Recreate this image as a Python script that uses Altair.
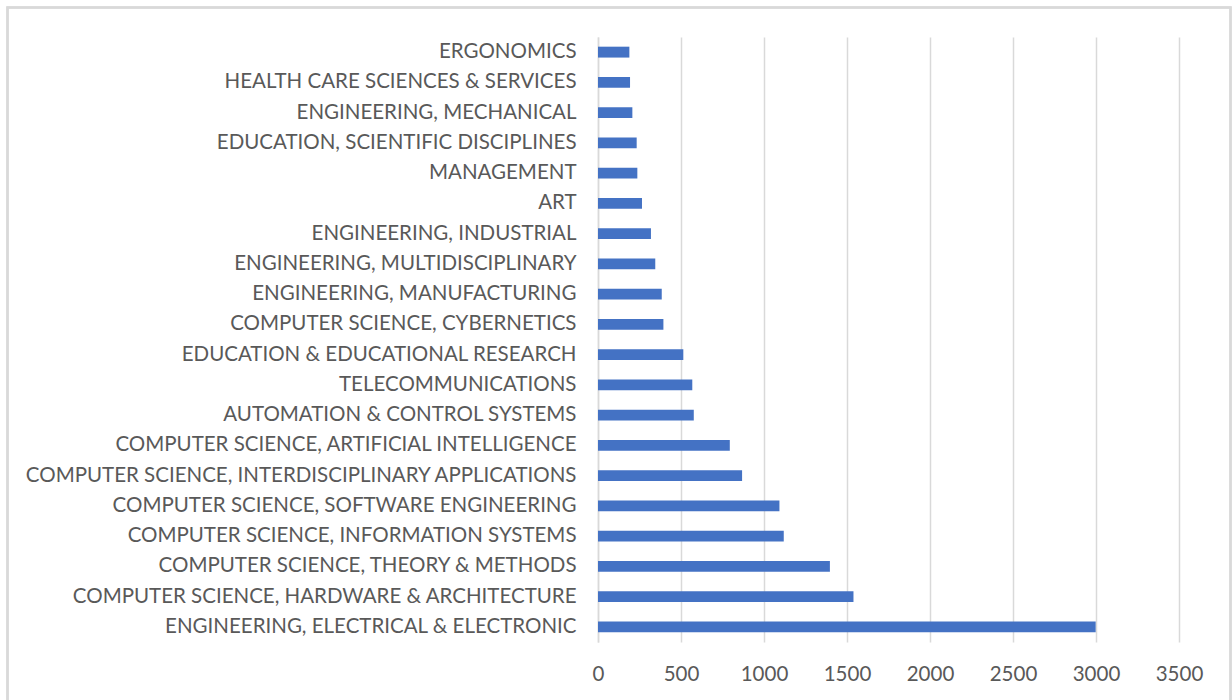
import altair as alt
import pandas as pd

# Research areas, listed top to bottom as they appear on the chart
categories = [
    "ERGONOMICS",
    "HEALTH CARE SCIENCES & SERVICES",
    "ENGINEERING, MECHANICAL",
    "EDUCATION, SCIENTIFIC DISCIPLINES",
    "MANAGEMENT",
    "ART",
    "ENGINEERING, INDUSTRIAL",
    "ENGINEERING, MULTIDISCIPLINARY",
    "ENGINEERING, MANUFACTURING",
    "COMPUTER SCIENCE, CYBERNETICS",
    "EDUCATION & EDUCATIONAL RESEARCH",
    "TELECOMMUNICATIONS",
    "AUTOMATION & CONTROL SYSTEMS",
    "COMPUTER SCIENCE, ARTIFICIAL INTELLIGENCE",
    "COMPUTER SCIENCE, INTERDISCIPLINARY APPLICATIONS",
    "COMPUTER SCIENCE, SOFTWARE ENGINEERING",
    "COMPUTER SCIENCE, INFORMATION SYSTEMS",
    "COMPUTER SCIENCE, THEORY & METHODS",
    "COMPUTER SCIENCE, HARDWARE & ARCHITECTURE",
    "ENGINEERING, ELECTRICAL & ELECTRONIC",
]

# Record counts per research area
counts = [
    189, 193, 207, 233, 237, 265, 319, 345, 384, 394,
    514, 568, 577, 794, 868, 1093, 1119, 1397, 1539, 2998,
]

x_ticks = [0, 500, 1000, 1500, 2000, 2500, 3000, 3500]

df = pd.DataFrame({"area": categories, "count": counts})

FONT = "Lato"
TEXT = "#595959"
GRID = "#d9d9d9"

bars = alt.Chart(df).mark_bar(color="#4472C4").encode(
    x=alt.X(
        "count:Q",
        scale=alt.Scale(domain=[0, 3500], nice=False, zero=True),
        axis=alt.Axis(
            values=x_ticks,
            format="d",
            title=None,
            grid=True,
            gridColor=GRID,
            gridWidth=1.5,
            domain=False,
            ticks=False,
            labelFlush=False,
            labelColor=TEXT,
            labelFont=FONT,
            labelFontSize=20.5,
            labelPadding=22,
        ),
    ),
    y=alt.Y(
        "area:N",
        sort=categories,
        scale=alt.Scale(paddingInner=0.64, paddingOuter=0.32),
        axis=alt.Axis(
            title=None,
            domain=True,
            domainColor=GRID,
            domainWidth=1.5,
            ticks=False,
            labelColor=TEXT,
            labelFont=FONT,
            labelFontSize=20.5,
            labelPadding=22,
            labelLimit=800,
        ),
    ),
)

# Light frame around the whole chart area
frame = alt.Chart(df).mark_rect(
    fill=None, stroke=GRID, strokeWidth=1.5
).encode(
    x=alt.value(-590.5),
    x2=alt.value(632.5),
    y=alt.value(-29.5),
    y2=alt.value(670),
)

chart = alt.layer(frame, bars).properties(
    width=581,
    height=605,
    background="white",
    autosize=alt.AutoSizeParams(type="none"),
    padding={"left": 598, "top": 37, "right": 53, "bottom": 58},
).configure_view(strokeWidth=0, stroke="transparent")

chart.save("out.html", embed_options={"renderer": "svg", "actions": False})
